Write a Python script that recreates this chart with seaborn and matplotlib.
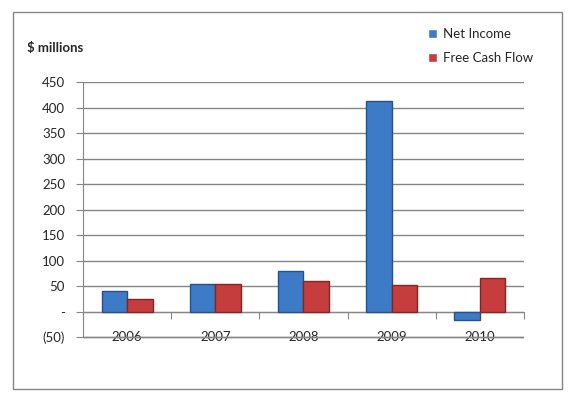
import pandas as pd
import matplotlib.pyplot as plt
import seaborn as sns
from matplotlib.patches import Rectangle

# Values ($ millions)
years = ["2006", "2007", "2008", "2009", "2010"]
net_income = [40, 54, 80, 413, -16]
free_cash_flow = [24, 54, 59, 52, 65]
series_names = ["Net Income", "Free Cash Flow"]
y_ticks = [-50, 0, 50, 100, 150, 200, 250, 300, 350, 400, 450]

df = pd.DataFrame({
    "Year": years * 2,
    "Value": net_income + free_cash_flow,
    "Series": [series_names[0]] * len(years) + [series_names[1]] * len(years),
})

sns.set_style("white")
plt.rcParams["font.family"] = ["Lato", "DejaVu Sans"]
grid_gray = "#868686"

fig = plt.figure(figsize=(5.75, 4.04), dpi=100)
ax = fig.add_axes([0.1445, 0.162, 0.911 - 0.1445, 0.7963 - 0.162])

sns.barplot(data=df, x="Year", y="Value", hue="Series", order=years,
            hue_order=series_names, palette=["#3E7BC6", "#C63D3D"],
            saturation=1, width=0.58, ax=ax, zorder=3)

edge = {"Net Income": "#25508C", "Free Cash Flow": "#862323"}
for cont, name in zip(ax.containers, series_names):
    for bar in cont:
        bar.set_edgecolor(edge[name])
        bar.set_linewidth(1.0)

ax.set_xlim(-0.5, 4.5)
ax.set_ylim(-53, 450)
ax.set_yticks(y_ticks)
ax.set_yticklabels(["(50)" if v < 0 else ("-" if v == 0 else str(v)) for v in y_ticks])
ax.yaxis.grid(True, color=grid_gray, linewidth=1.0, zorder=0)
ax.set_axisbelow(True)
ax.tick_params(axis="y", length=5, color=grid_gray, labelsize=9.5, pad=8, left=True)

# category axis sits on the zero line
ax.spines["bottom"].set_position(("data", 0))
ax.spines["bottom"].set_color(grid_gray)
ax.spines["left"].set_color(grid_gray)
ax.spines["left"].set_bounds(-50, 450)
for s in ["top", "right"]:
    ax.spines[s].set_visible(False)
ax.set_xticks([i - 0.5 for i in range(len(years) + 1)])
ax.set_xticklabels([])
ax.set_xticks(range(len(years)), minor=True)
ax.set_xticklabels(years, minor=True)
ax.tick_params(axis="x", which="major", length=5, color=grid_gray, direction="out", bottom=True)
ax.tick_params(axis="x", which="minor", length=0, labelsize=9.5, pad=14)

# lowest gridline, drawn explicitly
ax.plot([-0.5, 4.5], [y_ticks[0], y_ticks[0]], color=grid_gray, linewidth=1.0,
        solid_capstyle="butt", zorder=1)

ax.set_xlabel("")
ax.set_ylabel("")

ax.legend(loc="upper left", bbox_to_anchor=(0.724, 0.96), bbox_transform=fig.transFigure,
          frameon=False, fontsize=9.5, handlelength=0.7, handleheight=0.7,
          handletextpad=0.4, labelspacing=0.9)

fig.text(0.047, 1 - 48 / 404, "$ millions", fontsize=9.5, fontweight="bold", va="center")

fig.patches.append(Rectangle((13 / 575, 1 - 389 / 404), (562 - 13) / 575, (389 - 12) / 404,
                             transform=fig.transFigure, fill=False,
                             edgecolor=grid_gray, linewidth=1.0))

fig.savefig("out.png", dpi=100)
